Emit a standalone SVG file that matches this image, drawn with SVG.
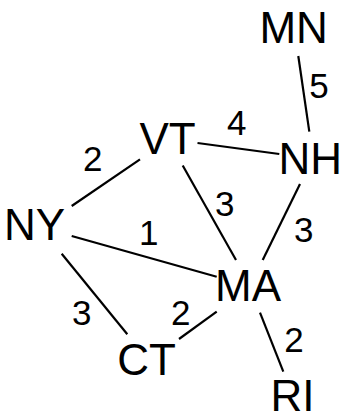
<svg xmlns="http://www.w3.org/2000/svg" width="343" height="412" viewBox="0 0 343 412">
<style>
.n{font-family:"Liberation Sans",Arial,Helvetica,sans-serif;font-size:44px;fill:#000;text-anchor:middle}
.l{font-family:"Liberation Sans",Arial,Helvetica,sans-serif;font-size:35px;fill:#000;text-anchor:middle}
.e{stroke:#000;stroke-width:2.2;fill:none}
</style>
<rect width="343" height="412" fill="#fff"/>
<g id="edges">
<line class="e" x1="298.3" y1="56" x2="309.3" y2="131.7"/>
<line class="e" x1="197.5" y1="143" x2="279.3" y2="154"/>
<line class="e" x1="140" y1="159.3" x2="71.7" y2="206"/>
<line class="e" x1="182.7" y1="165.5" x2="236" y2="260"/>
<line class="e" x1="300" y1="184" x2="262.7" y2="260"/>
<line class="e" x1="71.7" y1="236" x2="216.7" y2="276.7"/>
<line class="e" x1="61.7" y1="253.7" x2="127.3" y2="334.3"/>
<line class="e" x1="179" y1="339" x2="216.7" y2="311.7"/>
<line class="e" x1="260" y1="312.7" x2="283.3" y2="371.7"/>
<text class="l" x="319" y="98">5</text>
<text class="l" x="236.7" y="135">4</text>
<text class="l" x="92.7" y="171">2</text>
<text class="l" x="224.7" y="215.7">3</text>
<text class="l" x="303.7" y="241.7">3</text>
<text class="l" x="148.8" y="245.3">1</text>
<text class="l" x="81.7" y="325">3</text>
<text class="l" x="180.8" y="324.5">2</text>
<text class="l" x="294" y="352.3">2</text>
</g>
<g id="MN"><text class="n" x="293.7" y="42.5">MN</text></g>
<g id="VT"><text class="n" x="167.5" y="153.5">VT</text></g>
<g id="NH"><text class="n" x="310.3" y="173.5">NH</text></g>
<g id="NY"><text class="n" x="34.5" y="240.3">NY</text></g>
<g id="MA"><text class="n" x="248" y="301">MA</text></g>
<g id="CT"><text class="n" x="146.5" y="375.3">CT</text></g>
<g id="RI"><text class="n" x="292.5" y="411">RI</text></g>
</svg>
